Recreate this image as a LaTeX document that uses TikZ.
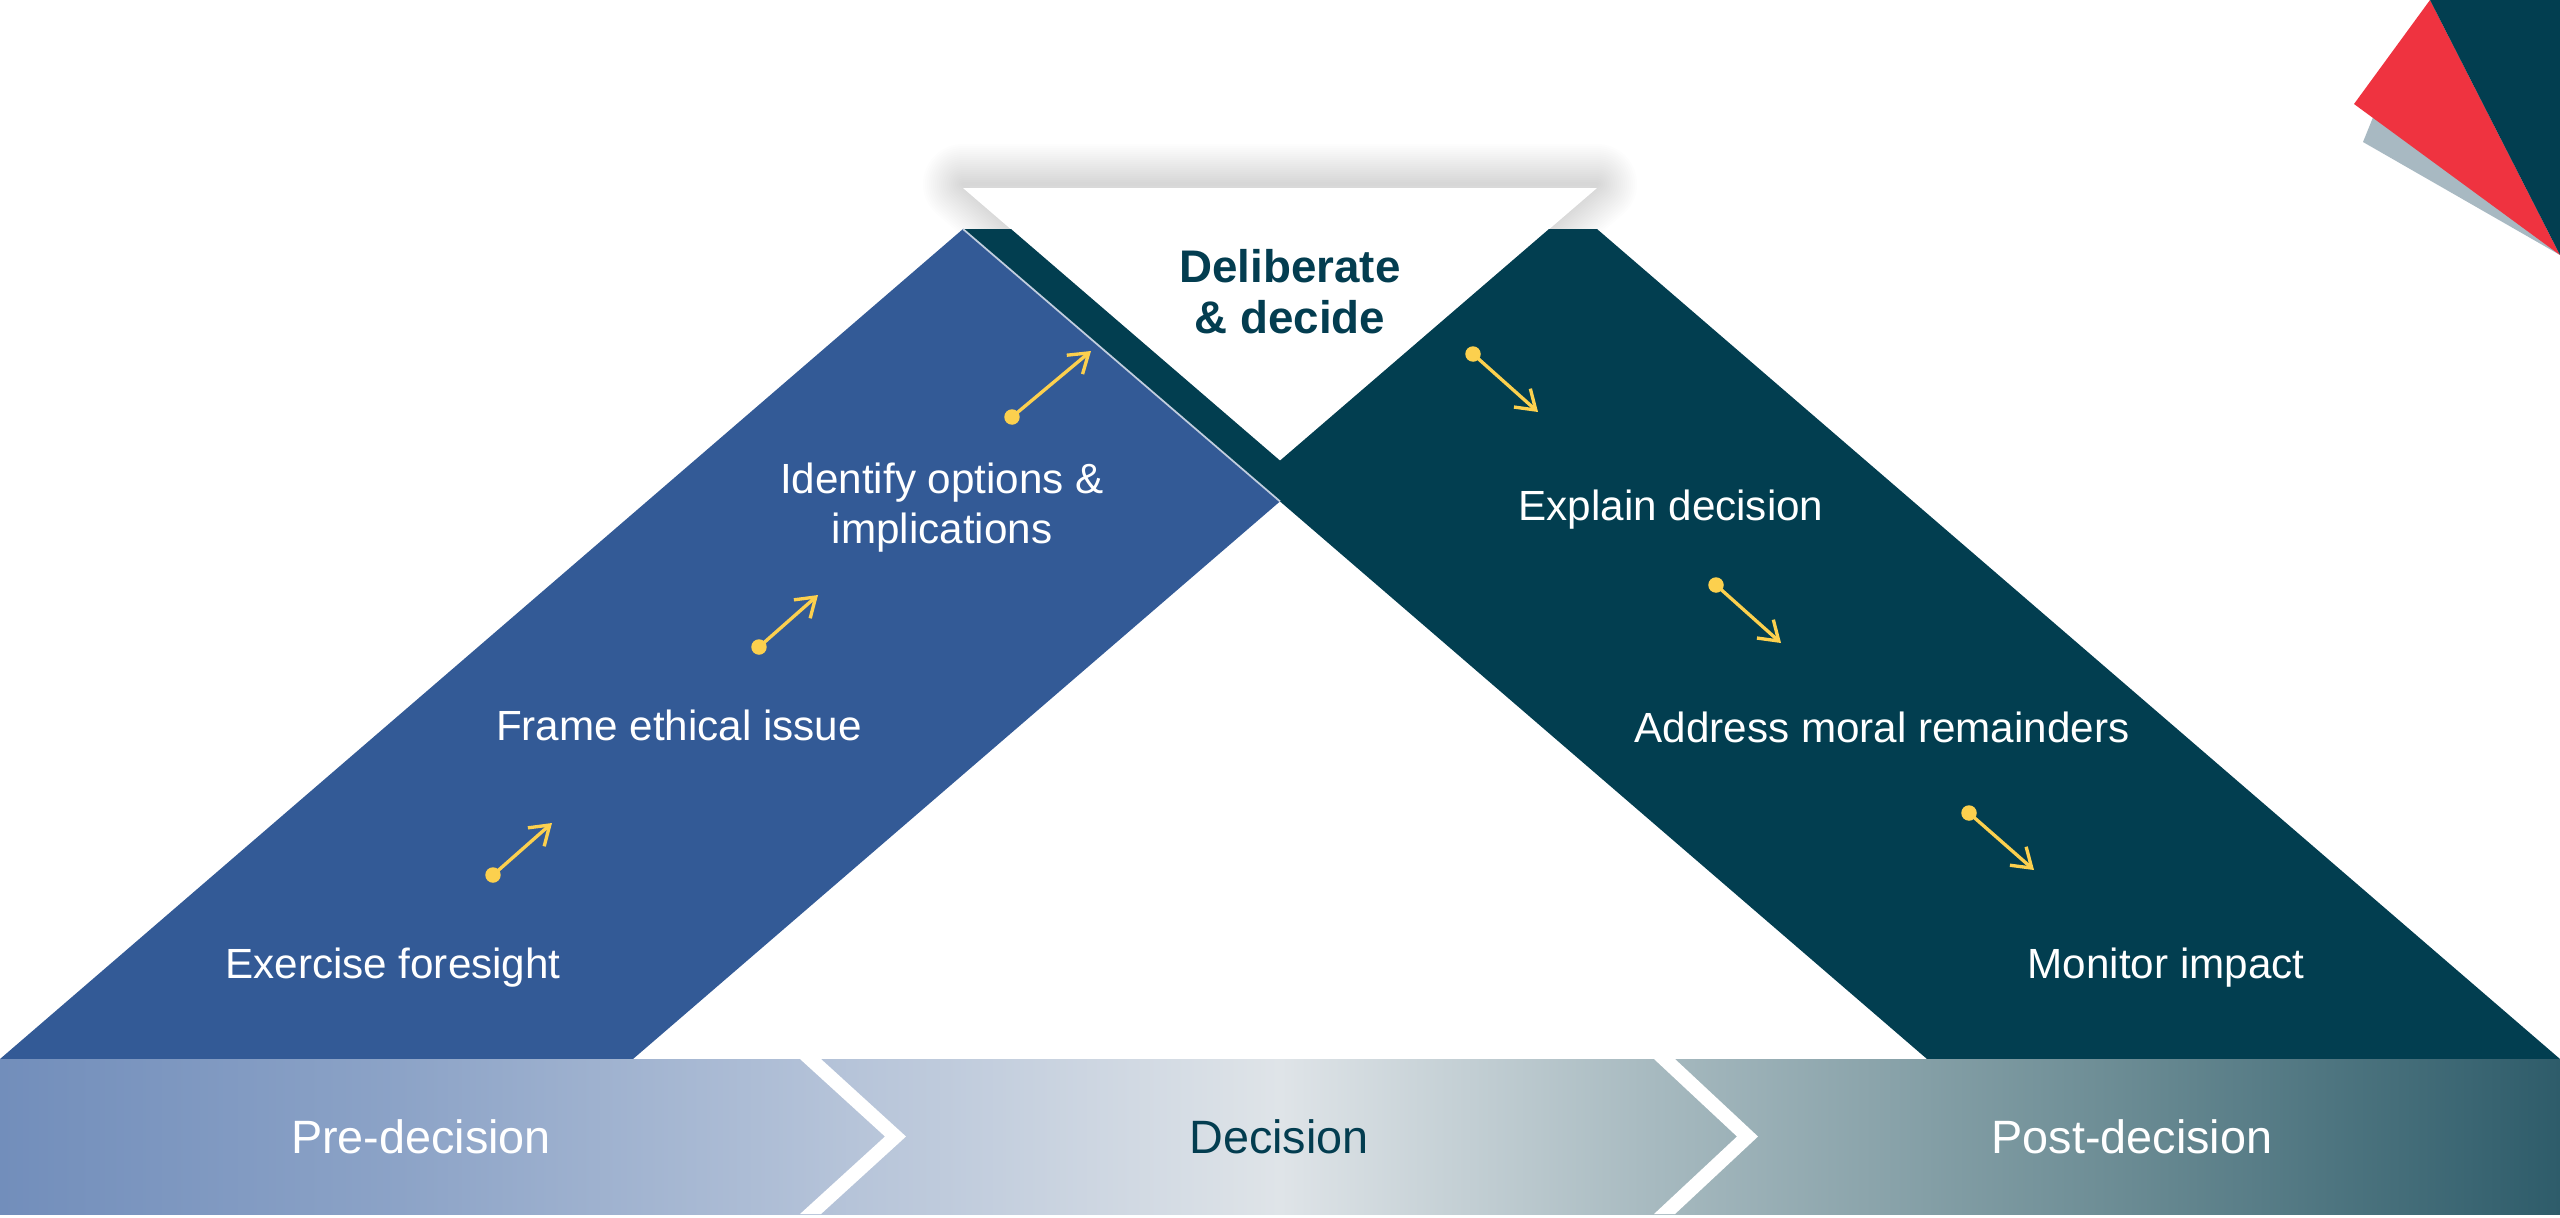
\documentclass[tikz,border=0pt]{standalone}
\usepackage{fontspec}
\setmainfont{Liberation Sans}
\usetikzlibrary{arrows.meta}
\definecolor{bandblue}{HTML}{335A96}
\definecolor{bandteal}{HTML}{023E50}
\definecolor{textteal}{HTML}{033D50}
\definecolor{arrowyellow}{HTML}{FCD04E}
\definecolor{cornerred}{HTML}{EF3340}
\definecolor{cornergrey}{HTML}{A8B9C2}
\definecolor{gA}{HTML}{728EBB}
\definecolor{gB}{HTML}{8CA3C7}
\definecolor{gC}{HTML}{B1C0D7}
\definecolor{gD}{HTML}{DFE4E8}
\definecolor{gE}{HTML}{A6B9BF}
\definecolor{gF}{HTML}{6E8E96}
\definecolor{gG}{HTML}{2E5C6A}
\pgfdeclarehorizontalshading{barshade}{100bp}{color(0bp)=(gA); color(25bp)=(gA); color(32.8bp)=(gB); color(40.6bp)=(gC); color(50bp)=(gD); color(57.4bp)=(gE); color(66bp)=(gF); color(75bp)=(gG); color(100bp)=(gG)}
\begin{document}
\begin{tikzpicture}[x=0.01cm,y=-0.01cm,
  lbl/.style={text=white, font=\fontsize{12}{14.2}\selectfont, inner sep=0pt, anchor=base, align=center},
  headlbl/.style={text=textteal, font=\bfseries\fontsize{13}{14.5}\selectfont, inner sep=0pt, anchor=base, align=center},
  barlbl/.style={font=\fontsize{13.3}{16}\selectfont, inner sep=0pt, anchor=base},
  dot/.style={circle, fill=arrowyellow, inner sep=0pt, minimum size=4.4pt},
  arr/.style={draw=arrowyellow, line width=0.95pt, -{Straight Barb[length=5.2pt,width=7pt]}},
  softshadow/.style={draw=black, opacity=0.0075, line join=round},
  chevron/.style={fill=white}]
\useasboundingbox (0,0) rectangle (2560,1217);
\fill[white] (0,0) rectangle (2560,1217);
% soft shadow of the white triangle
\foreach \r in {2,4,...,40} {
  \draw[softshadow, line width=\r*0.569pt] (963,184) -- (1597,184) -- (1280,456.6) -- cycle;
}
% white triangle
\fill[white] (963,188) -- (1597,188) -- (1280,460.6) -- cycle;
% bands
\fill[bandblue] (0,1059) -- (963,229) -- (1280,501.4) -- (633,1059) -- cycle;
\fill[bandteal] (963,229) -- (1011,229) -- (1280,460.6) -- (1549,229) -- (1597,229)
  -- (2560,1059) -- (1927,1059) -- (1280,501.4) -- cycle;
\draw[line width=0.5pt, white!70!bandblue] (963,229) -- (1280,501.4);
% corner decoration
\fill[cornergrey] (2380,100) -- (2363,142) -- (2560,255) -- cycle;
\fill[cornerred] (2430,0) -- (2354,104) -- (2560,255) -- cycle;
\fill[bandteal] (2430,0) -- (2560,0) -- (2560,255) -- cycle;
% bottom bar
\fill[shading=barshade] (0,1059) rectangle (2560,1214);
\fill[chevron] (800,1059) -- (821,1059) -- (906,1136.5) -- (821,1214) -- (800,1214) -- (885,1136.5) -- cycle;
\fill[chevron] (1654,1059) -- (1675,1059) -- (1758,1136.5) -- (1675,1214) -- (1654,1214) -- (1737,1136.5) -- cycle;
\node[barlbl, text=white] (pre) at (421,1153) {Pre-decision};
\node[barlbl, text=textteal] (dec) at (1279,1153) {Decision};
\node[barlbl, text=white] (post) at (2132,1153) {Post-decision};
% heading (base anchor = last line baseline)
\node[headlbl] (delib) at (1290,333) {Deliberate\\\& decide};
% labels
\node[lbl] (exf) at (393,978) {Exercise foresight};
\node[lbl] (fei) at (679,740) {Frame ethical issue};
\node[lbl] (ioi) at (942,543) {Identify options \&\\implications};
\node[lbl] (exd) at (1671,520) {Explain decision};
\node[lbl] (amr) at (1882,742) {Address moral remainders};
\node[lbl] (moi) at (2166,978) {Monitor impact};
% arrows
\node[dot] (d1) at (493,875) {};  \coordinate (h1) at (552,823);
\node[dot] (d2) at (759,647) {};  \coordinate (h2) at (818,595);
\node[dot] (d3) at (1012,417) {}; \coordinate (h3) at (1091,351);
\node[dot] (d4) at (1473,354) {}; \coordinate (h4) at (1538,412);
\node[dot] (d5) at (1716,585) {}; \coordinate (h5) at (1781,643);
\node[dot] (d6) at (1969,813) {}; \coordinate (h6) at (2034,870);
\foreach \i in {1,...,6} { \draw[arr] (d\i.center) -- (h\i); }
\end{tikzpicture}
\end{document}
